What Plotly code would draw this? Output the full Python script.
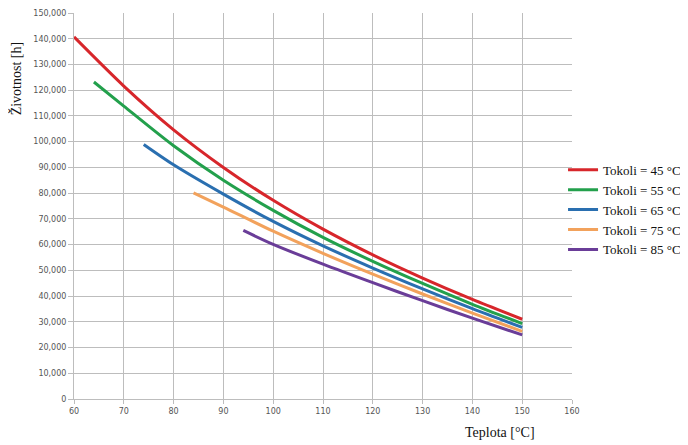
import plotly.graph_objects as go

# Temperature [°C] and lifetime [h]
t45 = [60, 70, 80, 90, 100, 110, 120, 130, 140, 150]
l45 = [140700, 121600, 104600, 90000, 77200, 66000, 56000, 47000, 38700, 31000]

t55 = [64, 70, 80, 90, 100, 110, 120, 130, 140, 150]
l55 = [123200, 113800, 98400, 85000, 73300, 62800, 53500, 44900, 36800, 29300]

t65 = [74, 80, 90, 100, 110, 120, 130, 140, 150]
l65 = [98900, 91000, 79600, 69000, 59500, 50900, 42800, 35100, 27800]

t75 = [84, 90, 100, 110, 120, 130, 140, 150]
l75 = [80100, 74600, 65200, 56600, 48500, 40800, 33400, 26300]

t85 = [94, 100, 110, 120, 130, 140, 150]
l85 = [65500, 60100, 52400, 45200, 38200, 31400, 24900]

names = ["Tokoli = 45 °C", "Tokoli = 55 °C", "Tokoli = 65 °C", "Tokoli = 75 °C", "Tokoli = 85 °C"]
colors = ["#d7262b", "#23a04c", "#2a6fb0", "#f2a25c", "#6a3d98"]
series = [(t45, l45), (t55, l55), (t65, l65), (t75, l75), (t85, l85)]

fig = go.Figure()
for (xs, ys), n, c in zip(series, names, colors):
    fig.add_trace(go.Scatter(x=xs, y=ys, name=n, mode="lines",
                             line=dict(color=c, width=3, shape="spline", smoothing=0.8)))

grid = "#bdbdbd"
tickfont = dict(family="DejaVu Sans", size=8, color="#555555")
fig.update_layout(
    width=680, height=437,
    margin=dict(l=65.5, r=116, t=5, b=46.3, autoexpand=False),
    paper_bgcolor="white", plot_bgcolor="white",
    showlegend=True,
    legend=dict(x=0.982, y=0.49, xanchor="left", yanchor="middle",
                font=dict(family="Liberation Serif", size=13, color="#111111"),
                tracegroupgap=0, itemwidth=30, bgcolor="rgba(0,0,0,0)"),
    xaxis=dict(range=[60, 160], dtick=10, tick0=60, showgrid=True, gridcolor=grid, gridwidth=1,
               showline=True, linecolor=grid, linewidth=1, ticks="outside", ticklen=4,
               tickcolor=grid, tickfont=tickfont, zeroline=False, fixedrange=True),
    yaxis=dict(range=[0, 150000], dtick=10000, showgrid=True, gridcolor=grid, gridwidth=1,
               showline=True, linecolor=grid, linewidth=1, ticks="outside", ticklen=5,
               tickcolor=grid, tickfont=tickfont, tickformat=",d", zeroline=False,
               fixedrange=True, ticklabeloverflow="allow"),
    annotations=[
        dict(text="Životnost [h]", xref="paper", yref="paper", x=-0.117, y=0.83,
             xanchor="center", yanchor="middle", textangle=-90, showarrow=False,
             font=dict(family="Liberation Serif", size=14, color="#111111")),
        dict(text="Teplota [°C]", xref="paper", yref="paper", x=0.856, y=-0.086,
             xanchor="center", yanchor="middle", showarrow=False,
             font=dict(family="Liberation Serif", size=14, color="#111111")),
    ],
)

fig.write_html("out.html")
